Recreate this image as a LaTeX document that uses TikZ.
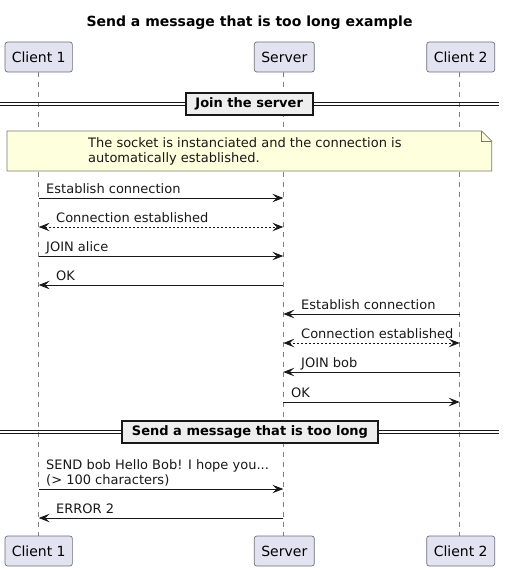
\documentclass[tikz,border=0pt]{standalone}
\usepackage{fontspec}
\setmainfont{DejaVu Sans}
\usetikzlibrary{arrows.meta}
\definecolor{partfill}{HTML}{E2E2F0}
\definecolor{notefill}{HTML}{FEFFDD}
\definecolor{divfill}{HTML}{EEEEEE}
\definecolor{edge}{HTML}{181818}
\definecolor{partedge}{HTML}{6E6E78}
\definecolor{noteedge}{HTML}{7A7A6A}
\begin{document}
\begin{tikzpicture}[x=1pt,y=-1pt,
  part/.style={draw=partedge, fill=partfill, rounded corners=2.5pt, line width=0.7pt,
    minimum height=30pt, inner sep=0pt, font=\fontsize{14}{16}\selectfont},
  life/.style={draw=edge!55, dash pattern=on 5pt off 5pt, line width=0.6pt},
  tipst/.tip={Stealth[length=11pt,width=8.5pt,inset=4.5pt]},
  msg/.style={draw=edge, line width=0.8pt, -tipst},
  retmsg/.style={draw=edge, line width=0.8pt, dash pattern=on 2pt off 2pt, tipst-tipst},
  lbl/.style={anchor=base west, inner sep=0pt, font=\fontsize{13}{15}\selectfont, text=edge},
  divline/.style={draw=edge, line width=0.9pt},
  divbox/.style={draw=edge, fill=divfill, line width=1.6pt, inner sep=0pt,
    minimum height=22pt, font=\fontsize{13}{15}\selectfont\bfseries},
  notebox/.style={draw=noteedge, fill=notefill, line width=0.7pt}
]
\useasboundingbox (0,0) rectangle (505,570);

% title
\node[anchor=base, inner sep=0pt, font=\fontsize{14}{16}\selectfont\bfseries] (title) at (249.5,26.5) {Send a message that is too long example};

% lifelines (behind everything)
\coordinate (l1t) at (38.7,72); \coordinate (l1b) at (38.7,536);
\coordinate (l2t) at (283.3,72); \coordinate (l2b) at (283.3,536);
\coordinate (l3t) at (459.7,72); \coordinate (l3b) at (459.7,536);
\draw[life] (l1t) -- (l1b);
\draw[life] (l2t) -- (l2b);
\draw[life] (l3t) -- (l3b);

% participants top
\node[part, minimum width=67.3pt] (c1top) at (38.7,57) {Client 1};
\node[part, minimum width=60pt] (srvtop) at (284.3,57) {Server};
\node[part, minimum width=68pt] (c2top) at (460.7,57) {Client 2};
% participants bottom
\node[part, minimum width=67.3pt] (c1bot) at (38.7,551) {Client 1};
\node[part, minimum width=60pt] (srvbot) at (284.3,551) {Server};
\node[part, minimum width=68pt] (c2bot) at (460.7,551) {Client 2};

% divider 1
\coordinate (d1a) at (0,102.5); \coordinate (d1b) at (499,102.5);
\coordinate (d1c) at (0,105.8); \coordinate (d1d) at (499,105.8);
\draw[divline] (d1a) -- (d1b);
\draw[divline] (d1c) -- (d1d);
\node[divbox, minimum width=127pt] (div1) at (249.2,104) {Join the server};

% note
\path[notebox] (7,131) -- (481.7,131) -- (491.7,141) -- (491.7,171) -- (7,171) -- cycle;
\draw[noteedge, line width=0.7pt] (481.7,131) -- (481.7,141) -- (491.7,141);
\node[lbl] (note1) at (88,147.5) {The socket is instanciated and the connection is};
\node[lbl] (note2) at (88,162.5) {automatically established.};

% message endpoints
\coordinate (m1a) at (38.7,198);  \coordinate (m1b) at (283.3,198);
\coordinate (m2a) at (38.7,227);  \coordinate (m2b) at (283.3,227);
\coordinate (m3a) at (38.7,256);  \coordinate (m3b) at (283.3,256);
\coordinate (m4a) at (283.3,285); \coordinate (m4b) at (38.7,285);
\coordinate (m5a) at (459.7,314); \coordinate (m5b) at (283.3,314);
\coordinate (m6a) at (283.3,343); \coordinate (m6b) at (459.7,343);
\coordinate (m7a) at (459.7,372); \coordinate (m7b) at (283.3,372);
\coordinate (m8a) at (283.3,402); \coordinate (m8b) at (459.7,402);
\coordinate (m9a) at (38.7,489);  \coordinate (m9b) at (283.3,489);
\coordinate (m10a) at (283.3,518); \coordinate (m10b) at (38.7,518);

\draw[msg] (m1a) -- (m1b);
\node[lbl] (t1) at (46,193) {Establish connection};
\draw[retmsg] (m2a) -- (m2b);
\node[lbl] (t2) at (56,222.5) {Connection established};
\draw[msg] (m3a) -- (m3b);
\node[lbl] (t3) at (46,251.5) {JOIN alice};
\draw[msg] (m4a) -- (m4b);
\node[lbl] (t4) at (56,280.5) {OK};
\draw[msg] (m5a) -- (m5b);
\node[lbl] (t5) at (301,309.5) {Establish connection};
\draw[retmsg] (m6a) -- (m6b);
\node[lbl] (t6) at (301,338.5) {Connection established};
\draw[msg] (m7a) -- (m7b);
\node[lbl] (t7) at (301,367.5) {JOIN bob};
\draw[msg] (m8a) -- (m8b);
\node[lbl] (t8) at (291,397.5) {OK};

% divider 2
\coordinate (d2a) at (0,430.5); \coordinate (d2b) at (499,430.5);
\coordinate (d2c) at (0,433.8); \coordinate (d2d) at (499,433.8);
\draw[divline] (d2a) -- (d2b);
\draw[divline] (d2c) -- (d2d);
\node[divbox, minimum width=255.5pt] (div2) at (250,432) {Send a message that is too long};

\draw[msg] (m9a) -- (m9b);
\node[lbl] (t9a) at (46,469.5) {SEND bob Hello Bob! I hope you...};
\node[lbl] (t9b) at (46,484) {(> 100 characters)};
\draw[msg] (m10a) -- (m10b);
\node[lbl] (t10) at (56,513.5) {ERROR 2};
\end{tikzpicture}
\end{document}
